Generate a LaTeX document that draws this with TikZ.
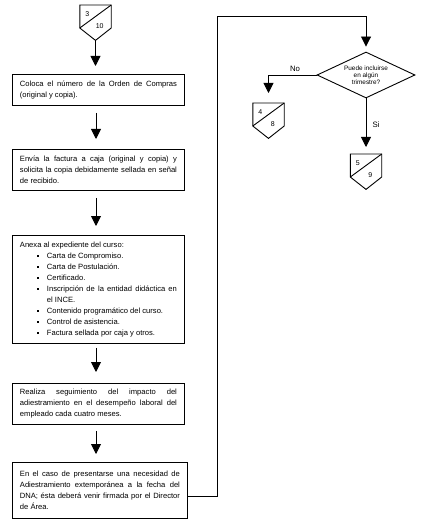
\documentclass[tikz,border=0pt]{standalone}
\usepackage{fontspec}
\setmainfont{Liberation Sans}
\usetikzlibrary{arrows.meta,shapes.geometric,calc}
\hyphenpenalty=10000
\exhyphenpenalty=10000
\tolerance=10000
\hbadness=10000
\newcommand\mybul{\raisebox{1.6pt}{\rule{2pt}{2pt}}}
\newcommand\offpg[5]{%
  \node[opc] (#1) at (#2,#3) {};
  \draw[line] (#1.north west) -- (#1.north east) -- ([yshift=-23pt]#1.north east) -- (#1.south) -- ([yshift=-23pt]#1.north west) -- cycle;
  \draw[line] ([yshift=-23pt]#1.north west) -- (#1.north east);
  \node[num] (#1-a) at ([xshift=7.5pt,yshift=-9pt]#1.north west) {#4};
  \node[num] (#1-b) at ([xshift=-11.5pt,yshift=-21pt]#1.north east) {#5};
}
\tikzset{
  line/.style={draw=black, line width=0.9pt},
  arr/.style={line, -{Triangle[width=10pt,length=10pt]}},
  box/.style={line, rectangle, anchor=north west, inner xsep=7.5pt, inner ysep=0pt,
    text width=157pt, align=justify, font=\fontsize{7.6}{11}\selectfont},
  opc/.style={rectangle, draw=none, anchor=north, minimum width=31pt, minimum height=35pt, inner sep=0pt},
  num/.style={inner sep=0pt, font=\fontsize{7}{8}\selectfont},
  lbl/.style={inner sep=0pt, font=\fontsize{7.8}{9}\selectfont},
  dec/.style={line, diamond, aspect=2.13, minimum width=98pt, minimum height=46pt, inner sep=0pt,
    align=center, font=\fontsize{6.4}{7.2}\selectfont},
}
\begin{document}
\begin{tikzpicture}[x=1pt,y=-1pt]
\useasboundingbox[fill=white] (0,0) rectangle (428,521);
\coordinate (col) at (96,0);
\coordinate (loop) at (217,16);

\offpg{c1}{95.5}{5}{3}{10}

\node[box, minimum height=31pt] (b1) at (12,74)
  {Coloca el número de la Orden de Compras\linebreak (original y copia).};
\node[box, minimum height=41pt] (b2) at (12,149)
  {Envía la factura a caja (original y copia) y\linebreak solicita la copia debidamente sellada en señal\linebreak de recibido.};
\node[box, minimum height=108pt] (b3) at (12,235)
  {Anexa al expediente del curso:
   \begin{list}{\mybul}{\setlength\leftmargin{27pt}\setlength\labelsep{8pt}\setlength\labelwidth{2pt}%
     \setlength\topsep{0pt}\setlength\partopsep{0pt}\setlength\itemsep{0pt}\setlength\parsep{0pt}}
   \item Carta de Compromiso.
   \item Carta de Postulación.
   \item Certificado.
   \item Inscripción de la entidad didáctica en\linebreak el INCE.
   \item Contenido programático del curso.
   \item Control de asistencia.
   \item Factura sellada por caja y otros.
   \end{list}};
\node[box, minimum height=41pt] (b4) at (12,383)
  {Realiza seguimiento del impacto del\linebreak adiestramiento en el desempeño laboral del\linebreak empleado cada cuatro meses.};
\node[box, minimum height=56pt, text width=160pt] (b5) at (12,462)
  {En el caso de presentarse una necesidad de\linebreak Adiestramiento extemporánea a la fecha del\linebreak DNA; ésta deberá venir firmada por el Director\linebreak de Área.};

\node[dec] (d) at (366,75) {Puede incluirse\\en algún\\trimestre?};
\offpg{c2}{268.5}{103}{4}{8}
\offpg{c3}{366}{154}{5}{9}

\draw[arr, shorten >=8pt] (c1.south) -- (c1.south |- b1.north);
\draw[arr, shorten <=7pt, shorten >=10pt] (b1.south -| col) -- (b2.north -| col);
\draw[arr, shorten <=7pt, shorten >=9pt] (b2.south -| col) -- (b3.north -| col);
\draw[arr, shorten <=4pt, shorten >=11pt] (b3.south -| col) -- (b4.north -| col);
\draw[arr, shorten <=6pt, shorten >=8pt] (b4.south -| col) -- (b5.north -| col);
\draw[arr, shorten >=5pt] ([yshift=-6pt]b5.east) -| (loop) -| (d.north);
\draw[arr, shorten >=10pt] (d.west) -| (c2.north);
\draw[arr, shorten >=7pt] (d.south) -- (c3.north);

\node[lbl] (no) at (295,69) {No};
\node[lbl] (si) at (376,125) {Si};
\end{tikzpicture}
\end{document}
